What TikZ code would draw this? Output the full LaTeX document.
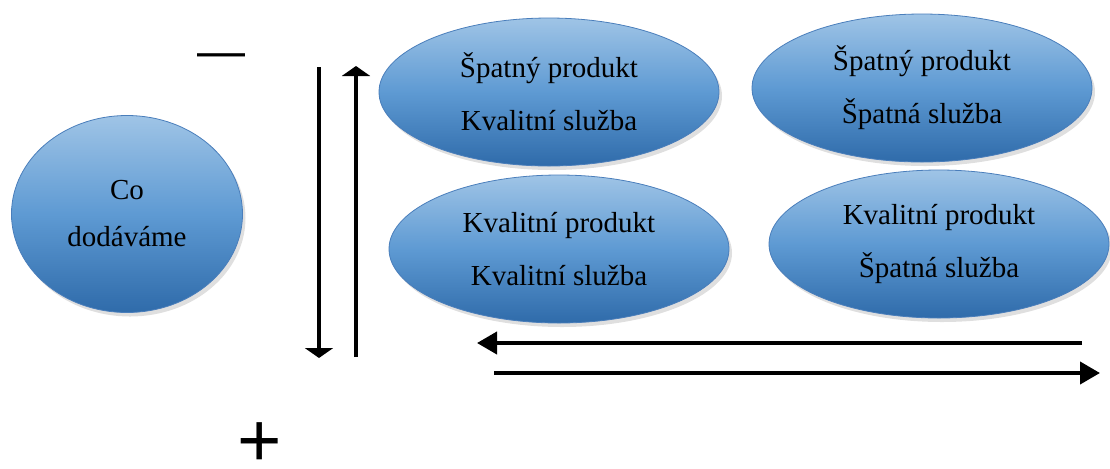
\documentclass[tikz,border=0pt]{standalone}
\usepackage{fontspec}
\setmainfont{Liberation Serif}
\newfontfamily\signfont{Liberation Sans}
\usetikzlibrary{arrows.meta,shapes.geometric,shadows}
\definecolor{BlobTop}{HTML}{9FC4E6}
\definecolor{BlobMid}{HTML}{5E9AD3}
\definecolor{BlobBottom}{HTML}{2F6BAA}
\definecolor{BlobEdge}{HTML}{4A7EBB}

\tikzset{
  blob/.style={ellipse, draw=BlobEdge, thin, top color=BlobTop,
    bottom color=BlobBottom, middle color=BlobMid, inner sep=0pt,
    drop shadow={shadow xshift=1.5pt, shadow yshift=-2pt, opacity=0.25},
    align=center, font=\fontsize{14.5}{26.5}\selectfont},
  quad/.style={blob, minimum width=170pt, minimum height=74pt},
  sign/.style={inner sep=0pt, font=\signfont\fontsize{#1}{#1}\selectfont},
  vdir/.style={line width=2.2pt, -{Triangle[width=14pt, length=5pt]}},
  hdir/.style={line width=2pt, -{Triangle[width=11pt, length=10pt]}},
}

\begin{document}
\begin{tikzpicture}[x=0.5pt, y=-0.5pt]
  \useasboundingbox (0,0) rectangle (1110,468);
  % Ellipses
  \node[blob, minimum width=115.5pt, minimum height=98.5pt,
    font=\fontsize{14.5}{23.5}\selectfont] (co) at (127,214) {Co\\dodáváme};
  \node[quad] (spkq) at (549,92) {Špatný produkt\\Kvalitní služba};
  \node[quad] (spsp) at (922,88) {Špatný produkt\\Špatná služba};
  \node[quad] (kpkq) at (559,249) {Kvalitní produkt\\Kvalitní služba};
  \node[quad] (kpsp) at (939,244) {Kvalitní produkt\\Špatná služba};
  % Signs
  \node[sign=24] (minus) at (221,61) {—};
  \node[sign=38] (plus) at (260,445) {+};
  % Arrow ends
  \coordinate (downtop) at (319,67);
  \coordinate (downbot) at (319,358);
  \coordinate (upbot) at (356,357);
  \coordinate (uptop) at (356,66);
  \coordinate (leftstart) at (1082,343);
  \coordinate (leftend) at (477,343);
  \coordinate (rightstart) at (494,373);
  \coordinate (rightend) at (1100,373);
  % Arrows
  \draw[vdir] (downtop) -- (downbot);
  \draw[vdir] (upbot) -- (uptop);
  \draw[hdir] (leftstart) -- (leftend);
  \draw[hdir] (rightstart) -- (rightend);
\end{tikzpicture}
\end{document}
